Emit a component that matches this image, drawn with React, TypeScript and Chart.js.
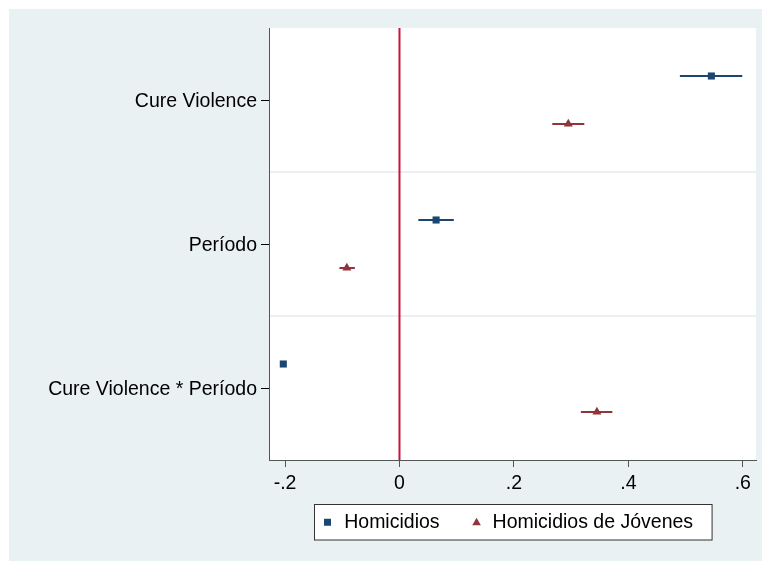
import { useEffect, useRef } from 'react';
import { Chart, registerables } from 'chart.js';

Chart.register(...registerables);

// Coefficients and 95% confidence bounds per term
const categories = ['Cure Violence', 'Período', 'Cure Violence * Período'];
const seriesNames = ['Homicidios', 'Homicidios de Jóvenes'];

const homicidios = [0.545, 0.064, -0.203];
const homicidiosLow = [0.49, 0.033, -0.206];
const homicidiosHigh = [0.599, 0.095, -0.2];

const jovenes = [0.295, -0.092, 0.345];
const jovenesLow = [0.267, -0.105, 0.317];
const jovenesHigh = [0.323, -0.078, 0.372];

const xTickValues = [-0.2, 0, 0.2, 0.4, 0.6];
const xTickLabels = ['-.2', '0', '.2', '.4', '.6'];

const W = 762;
const H = 561;
const FONT = "'Liberation Sans', Arial, Helvetica, sans-serif";
const FONT_SIZE = 19.5;
const BG = '#eaf1f3';
const NAVY = '#1a476f';
const MAROON = '#90353b';
const REFLINE = '#c8143c';

const series = [
  { label: seriesNames[0], est: homicidios, lo: homicidiosLow, hi: homicidiosHigh, color: NAVY, pointStyle: 'rect', radius: 5, offset: -1 / 6 },
  { label: seriesNames[1], est: jovenes, lo: jovenesLow, hi: jovenesHigh, color: MAROON, pointStyle: 'triangle', radius: 5.2, offset: 1 / 6 },
];

function drawMarker(ctx: CanvasRenderingContext2D, style: string, x: number, y: number, color: string) {
  ctx.fillStyle = color;
  ctx.beginPath();
  if (style === 'rect') {
    ctx.rect(x - 3.5, y - 3.5, 7, 7);
  } else {
    ctx.moveTo(x, y - 4.5);
    ctx.lineTo(x + 4.3, y + 3);
    ctx.lineTo(x - 4.3, y + 3);
    ctx.closePath();
  }
  ctx.fill();
}

const coefPlugin = {
  id: 'coefDecor',
  beforeDraw(chart: any) {
    const { ctx, chartArea: a } = chart;
    ctx.save();
    ctx.fillStyle = '#ffffff';
    ctx.fillRect(0, 0, W, H);
    ctx.fillStyle = BG;
    ctx.fillRect(9, 9, W - 9, H - 9);
    ctx.fillStyle = '#ffffff';
    ctx.fillRect(a.left, a.top, a.right - a.left, a.bottom - a.top);
    ctx.restore();
  },
  beforeDatasetsDraw(chart: any) {
    const { ctx, chartArea: a, scales } = chart;
    const xs = scales.x;
    const ys = scales.y;
    ctx.save();
    // separators between terms
    ctx.strokeStyle = '#e3ebee';
    ctx.lineWidth = 1.5;
    for (let i = 0; i < categories.length - 1; i++) {
      const py = ys.getPixelForValue(i + 1.5);
      ctx.beginPath();
      ctx.moveTo(a.left + 1, py);
      ctx.lineTo(a.right, py);
      ctx.stroke();
    }
    // reference line at zero
    const x0 = xs.getPixelForValue(0);
    ctx.strokeStyle = REFLINE;
    ctx.lineWidth = 2;
    ctx.beginPath();
    ctx.moveTo(x0, a.top);
    ctx.lineTo(x0, a.bottom);
    ctx.stroke();
    // confidence intervals
    ctx.lineWidth = 2;
    series.forEach((s) => {
      ctx.strokeStyle = s.color;
      categories.forEach((_, i) => {
        const py = ys.getPixelForValue(i + 1 + s.offset);
        ctx.beginPath();
        ctx.moveTo(xs.getPixelForValue(s.lo[i]), py);
        ctx.lineTo(xs.getPixelForValue(s.hi[i]), py);
        ctx.stroke();
      });
    });
    ctx.restore();
  },
  afterDraw(chart: any) {
    const { ctx, chartArea: a } = chart;
    ctx.save();
    ctx.font = `${FONT_SIZE}px ${FONT}`;
    const w1 = ctx.measureText(series[0].label).width;
    const w2 = ctx.measureText(series[1].label).width;
    const boxW = 29.7 + w1 + 37 + 16 + w2 + 19;
    const boxH = 35.5;
    const left = Math.round((a.left + a.right) / 2 - boxW / 2) + 0.5;
    const top = a.bottom + 44.5;
    ctx.fillStyle = '#ffffff';
    ctx.fillRect(left, top, boxW, boxH);
    ctx.strokeStyle = '#333333';
    ctx.lineWidth = 1;
    ctx.strokeRect(left, top, boxW, boxH);
    const cy = top + boxH / 2;
    const m1 = left + 13;
    drawMarker(ctx, series[0].pointStyle, m1, cy, series[0].color);
    ctx.fillStyle = '#000';
    ctx.textBaseline = 'middle';
    ctx.textAlign = 'left';
    ctx.fillText(series[0].label, m1 + 16.7, cy);
    const m2 = m1 + 16.7 + w1 + 37;
    drawMarker(ctx, series[1].pointStyle, m2, cy, series[1].color);
    ctx.fillStyle = '#000';
    ctx.fillText(series[1].label, m2 + 16, cy);
    ctx.restore();
  },
};

export default function App() {
  const ref = useRef<HTMLCanvasElement | null>(null);

  useEffect(() => {
    if (!ref.current) return;
    const chart = new Chart(ref.current, {
      type: 'scatter',
      data: {
        datasets: series.map((s) => ({
          label: s.label,
          data: categories.map((_, i) => ({ x: s.est[i], y: i + 1 + s.offset })),
          pointStyle: s.pointStyle as any,
          pointRadius: s.radius,
          backgroundColor: s.color,
          borderColor: s.color,
          borderWidth: 0,
        })),
      },
      options: {
        responsive: false,
        animation: false,
        events: [],
        layout: { padding: { left: 0, top: 28, right: 6, bottom: 0 } },
        plugins: { legend: { display: false }, tooltip: { enabled: false } },
        scales: {
          x: {
            type: 'linear',
            min: -0.228,
            max: 0.623,
            afterBuildTicks: (s: any) => {
              s.ticks = xTickValues.map((value) => ({ value }));
            },
            afterFit: (s: any) => {
              s.height = 101;
            },
            ticks: {
              autoSkip: false,
              maxRotation: 0,
              padding: 5,
              color: '#000',
              font: { family: FONT, size: FONT_SIZE },
              callback: (v: any) => {
                const idx = xTickValues.findIndex((t) => Math.abs(t - v) < 1e-9);
                return idx >= 0 ? xTickLabels[idx] : '';
              },
            },
            grid: { drawOnChartArea: false, tickLength: 7, color: '#555', lineWidth: 1 },
            border: { display: true, color: '#555', width: 1 },
          },
          y: {
            type: 'linear',
            min: 0.5,
            max: 3.5,
            reverse: true,
            afterBuildTicks: (s: any) => {
              s.ticks = categories.map((_, i) => ({ value: i + 1 }));
            },
            afterFit: (s: any) => {
              s.width = 269;
            },
            ticks: {
              autoSkip: false,
              padding: 4,
              labelOffset: 1.5,
              color: '#000',
              font: { family: FONT, size: FONT_SIZE },
              callback: (v: any) => categories[Math.round(v) - 1] ?? '',
            },
            grid: { drawOnChartArea: false, tickLength: 8, color: '#000', lineWidth: 1 },
            border: { display: true, color: '#555', width: 1 },
          },
        },
      },
      plugins: [coefPlugin],
    });
    return () => chart.destroy();
  }, []);

  return (
    <div style={{ position: 'fixed', left: 0, top: 0, width: W, height: H }}>
      <canvas ref={ref} width={W} height={H} style={{ display: 'block', width: W, height: H }} />
    </div>
  );
}
